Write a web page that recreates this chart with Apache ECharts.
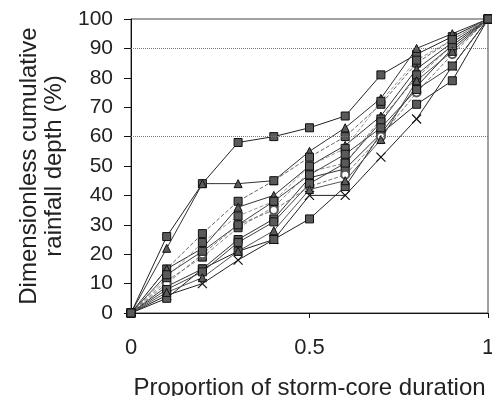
<!DOCTYPE html>
<html>
<head>
<meta charset="utf-8">
<script src="https://cdn.jsdelivr.net/npm/echarts@6/dist/echarts.min.js"></script>
<style>
  html, body { margin: 0; padding: 0; background: #fff; }
  #chart { width: 492px; height: 396px; }
</style>
</head>
<body>
<div id="chart"></div>
<script>
// proportion of storm-core duration
var xValues = [0, 0.1, 0.2, 0.3, 0.4, 0.5, 0.6, 0.7, 0.8, 0.9, 1];
// cumulative depth per storm (%)
var storm1 = [0, 26, 44, 58, 60, 63, 67, 81, 88, 94, 100];
var storm2 = [0, 22, 44, 44, 45, 55, 63, 73, 90, 95, 100];
var storm3 = [0, 15, 27, 38, 45, 53, 60, 71, 85, 93, 100];
var storm4 = [0, 15, 22, 36, 40, 50, 57, 67, 83, 92, 100];
var storm5 = [0, 11, 19, 29, 36, 48, 51, 66, 80, 91, 100];
var storm6 = [0, 9, 15, 25, 32, 46, 49, 61, 77, 90, 100];
var storm7 = [0, 6, 10, 18, 25, 40, 40, 53, 66, 84, 100];
var storm8 = [0, 5, 15, 21, 25, 32, 43, 61, 71, 79, 100];
var storm9 = [0, 10, 20, 30, 35, 43, 47, 60, 75, 88, 100];
var storm10 = [0, 8, 14, 24, 31, 44, 51, 65, 81, 91, 100];
var storm11 = [0, 12, 24, 33, 38, 50, 56, 72, 86, 93, 100];
var storm12 = [0, 7, 12, 21, 28, 42, 45, 59, 79, 89, 100];
var storm13 = [0, 13, 21, 30, 38, 47, 54, 63, 76, 84, 100];
var yTicks = [0, 10, 20, 30, 40, 50, 60, 70, 80, 90, 100];

var crossSymbol = "path://M0,0L10,10M10,0L0,10";

// 样式: [数据, 标记, 线色, 线型]
var storms = [
  [storm1, "rect", "#222", "solid"],
  [storm2, "triangle", "#333", "solid"],
  [storm3, "rect", "#666", "dashed"],
  [storm4, "triangle", "#333", "solid"],
  [storm5, "rect", "#888", "dashed"],
  [storm6, "rect", "#333", "solid"],
  [storm7, crossSymbol, "#222", "solid"],
  [storm8, "rect", "#222", "solid"],
  [storm9, "emptyCircle", "#777", "dashed"],
  [storm10, "rect", "#444", "solid"],
  [storm11, "rect", "#999", "dashed"],
  [storm12, "triangle", "#555", "solid"],
  [storm13, "rect", "#444", "solid"]
];

var textColor = "#222";
var font = "Liberation Sans, Arial, sans-serif";

var series = storms.map(function (s, i) {
  var isCross = s[1] === crossSymbol;
  return {
    type: "line",
    data: xValues.map(function (x, j) { return [x, s[0][j]]; }),
    symbol: s[1],
    symbolSize: isCross ? 9 : 8,
    showAllSymbol: true,
    lineStyle: { color: s[2], width: 1, type: s[3] },
    itemStyle: {
      color: isCross ? "#222" : "#5a5a5a",
      borderColor: "#111",
      borderWidth: isCross ? 1.2 : 1
    },
    z: 3,
    markLine: i === 0 ? {
      silent: true,
      symbol: "none",
      label: { show: false },
      lineStyle: { color: "#777", type: "dotted", width: 1 },
      data: [{ yAxis: 60 }, { yAxis: 90 }]
    } : undefined
  };
});

var chart = echarts.init(document.getElementById("chart"));
chart.setOption({
  animation: false,
  backgroundColor: "#fff",
  grid: {
    left: 131,
    right: 4,
    top: 19,
    bottom: 83,
    outerBoundsMode: "none",
    show: true,
    borderColor: "#444",
    borderWidth: 1
  },
  xAxis: {
    type: "value",
    min: 0,
    max: 1,
    interval: 0.5,
    name: "Proportion of storm-core duration",
    nameLocation: "middle",
    nameGap: 63,
    nameTextStyle: { fontFamily: font, fontSize: 24, color: textColor },
    axisLine: { lineStyle: { color: "#111", width: 1 } },
    axisTick: { show: true, length: 5, lineStyle: { color: "#111" } },
    axisLabel: {
      fontFamily: font,
      fontSize: 22,
      color: textColor,
      margin: 24,
      formatter: function (v) { return String(v); }
    },
    splitLine: { show: false }
  },
  yAxis: {
    type: "value",
    min: yTicks[0],
    max: yTicks[yTicks.length - 1],
    interval: 10,
    name: "Dimensionless cumulative\nrainfall depth (%)",
    nameLocation: "middle",
    nameGap: 63,
    nameTextStyle: { fontFamily: font, fontSize: 24, color: textColor, lineHeight: 25 },
    axisLine: { show: true, lineStyle: { color: "#111", width: 1 } },
    axisTick: { show: true, length: 7, lineStyle: { color: "#111" } },
    axisLabel: { fontFamily: font, fontSize: 21, color: textColor, margin: 18 },
    splitLine: { show: false }
  },
  series: series
});
</script>
</body>
</html>
